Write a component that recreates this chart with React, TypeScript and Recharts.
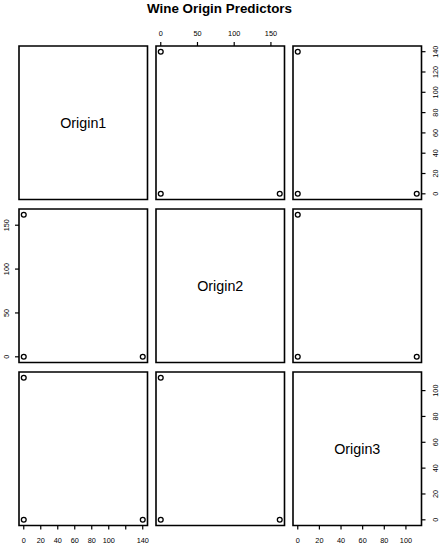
import React from "react";
import { ScatterChart, Scatter, XAxis, YAxis, ReferenceArea } from "recharts";

// variables of the pairs plot, one value per wine origin group
const varNames = ["Origin1", "Origin2", "Origin3"];
const origin1 = [140, 0, 0];
const origin2 = [0, 162, 0];
const origin3 = [0, 0, 110];

const origin1Ticks = [0, 20, 40, 60, 80, 100, 120, 140];
const origin2Ticks = [0, 50, 100, 150];
const origin3Ticks = [0, 20, 40, 60, 80, 100];
// labels R drops on the bottom axis because they would overlap
const origin1HiddenBottom = [120];

const VALUES = [origin1, origin2, origin3];
const TICKS = [origin1Ticks, origin2Ticks, origin3Ticks];

const FONT = "'Liberation Sans', Arial, Helvetica, sans-serif";
const M = 30;
const PW = 128.5;
const PH = 153.5;
const COL_X = [18.5, 155.5, 292.5];
const ROW_Y = [45.5, 208.75, 372];

// R pads the range by 4% on each side
function domainOf(vals: number[]): [number, number] {
  const lo = Math.min(...vals);
  const hi = Math.max(...vals);
  const pad = (hi - lo) * 0.04;
  return [lo - pad, hi + pad];
}

function Circle(p: any) {
  return <circle cx={p.cx} cy={p.cy} r={2.4} fill="none" stroke="#000" strokeWidth={1.3} />;
}

function Panel({ row, col }: { row: number; col: number }) {
  const xs = VALUES[col];
  const ys = VALUES[row];
  const xd = domainOf(xs);
  const yd = domainOf(ys);
  const diag = row === col;
  const pts = xs.map((v, i) => ({ x: v, y: ys[i] }));

  const showTop = row === 0 && col % 2 === 1;
  const showBottom = row === 2 && col % 2 === 0;
  const showLeft = col === 0 && row % 2 === 1;
  const showRight = col === 2 && row % 2 === 0;

  const xTick = (props: any) => {
    const v = props.payload.value;
    if (showBottom && col === 0 && origin1HiddenBottom.includes(v)) return <g />;
    const ly = showTop ? M - 13 : M + PH + 14.7;
    return (
      <text x={props.x} y={ly} textAnchor="middle" dominantBaseline="central" fontSize={7.3} fontFamily={FONT} fill="#000">
        {v}
      </text>
    );
  };
  const yTick = (props: any) => {
    const v = props.payload.value;
    const lx = showLeft ? M - 12.5 : M + PW + 13.7;
    return (
      <text
        x={lx}
        y={props.y}
        transform={`rotate(-90, ${lx}, ${props.y})`}
        textAnchor="middle"
        dominantBaseline="central"
        fontSize={7.3}
        fontFamily={FONT}
        fill="#000"
      >
        {v}
      </text>
    );
  };

  return (
    <div style={{ position: "absolute", left: COL_X[col] - M, top: ROW_Y[row] - M }}>
      <ScatterChart
        width={PW + 2 * M}
        height={PH + 2 * M}
        margin={{
          top: showTop ? 0 : M,
          bottom: showBottom ? 0 : M,
          left: showLeft ? 0 : M,
          right: showRight ? 0 : M,
        }}
      >
        <XAxis
          dataKey="x"
          type="number"
          domain={xd}
          ticks={TICKS[col]}
          allowDataOverflow
          hide={!(showTop || showBottom)}
          orientation={showTop ? "top" : "bottom"}
          height={M}
          tickSize={4}
          axisLine={false}
          tickLine={{ stroke: "#000", strokeWidth: 1.2 }}
          stroke="#000"
          tick={xTick}
          interval={0}
        />
        <YAxis
          dataKey="y"
          type="number"
          domain={yd}
          ticks={TICKS[row]}
          allowDataOverflow
          hide={!(showLeft || showRight)}
          orientation={showLeft ? "left" : "right"}
          width={M}
          tickSize={4}
          axisLine={false}
          tickLine={{ stroke: "#000", strokeWidth: 1.2 }}
          stroke="#000"
          tick={yTick}
          interval={0}
        />
        {!diag && <Scatter data={pts} isAnimationActive={false} shape={Circle} />}
        <ReferenceArea
          x1={xd[0]}
          x2={xd[1]}
          y1={yd[0]}
          y2={yd[1]}
          fill="none"
          fillOpacity={0}
          stroke="#000"
          strokeWidth={1.6}
          ifOverflow="visible"
          label={diag ? { value: varNames[row], position: "center", fontSize: 14.3, fill: "#000", fontFamily: FONT } : undefined}
        />
      </ScatterChart>
    </div>
  );
}

export default function App() {
  const cells: React.ReactNode[] = [];
  for (let r = 0; r < 3; r++) for (let c = 0; c < 3; c++) cells.push(<Panel key={`${r}-${c}`} row={r} col={c} />);
  return (
    <div style={{ position: "absolute", left: 0, top: 0, width: 440, height: 545, background: "#fff" }}>
      <svg width={440} height={20} style={{ position: "absolute", left: 0, top: 0 }}>
        <text x={219.5} y={12.6} textAnchor="middle" fontSize={13.4} fontWeight="bold" fontFamily={FONT} fill="#000">
          Wine Origin Predictors
        </text>
      </svg>
      {cells}
    </div>
  );
}
